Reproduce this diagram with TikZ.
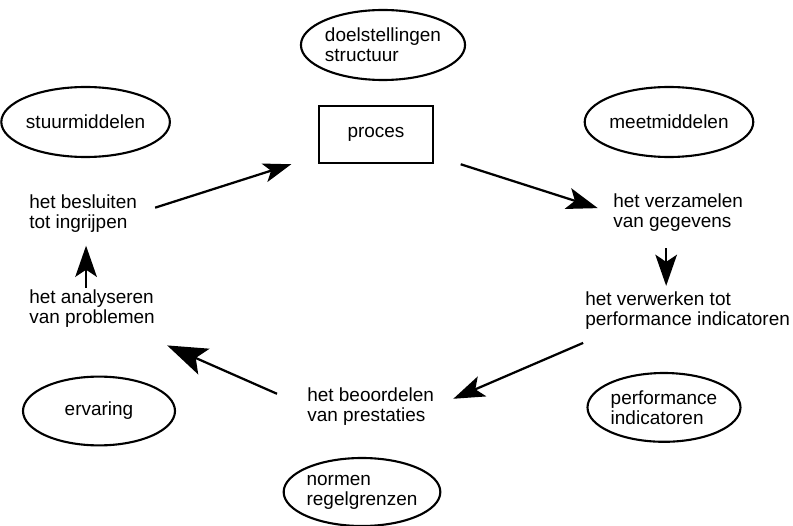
\documentclass[tikz,border=0pt]{standalone}
\usepackage{fontspec}
\setmainfont{Liberation Sans}
\usetikzlibrary{arrows.meta,shapes.geometric}

\begin{document}
\begin{tikzpicture}[
    font=\fontsize{13.5}{14.2}\selectfont,
    means/.style={draw, ellipse, line width=1.5pt, inner sep=0pt, align=left, minimum width=3.8cm, minimum height=1.72cm},
    activity/.style={inner sep=0pt, align=left, anchor=west},
    arrow/.style={-{Stealth[length=7.8mm, width=5.4mm, inset=1.8mm]}, line width=1.6pt}
]
\useasboundingbox (0,0) rectangle (19.825,13.125);

\node[draw, line width=1.5pt, minimum width=2.85cm, minimum height=1.425cm] (proces) at (9.4,9.76) {proces};

\node[means, minimum width=3.85cm, minimum height=1.75cm] (doel) at (9.575,12.0) {doelstellingen\\structuur};
\node[means, minimum width=3.875cm, minimum height=1.75cm] (stuur) at (2.14,10.075) {stuurmiddelen};
\node[means, minimum height=1.75cm] (meet) at (16.725,10.075) {meetmiddelen};
\node[means] (ervaring) at (2.475,2.85) {ervaring};
\node[means, minimum width=3.825cm] (perf) at (16.6,2.94) {performance\\indicatoren};
\node[means, minimum width=3.75cm, minimum height=1.7cm] (normen) at (9.05,0.825) {normen\\regelgrenzen};

\node[activity] (besluit) at (0.725,7.79) {het besluiten\\tot ingrijpen};
\node[activity] (analyse) at (0.725,5.4) {het analyseren\\van problemen};
\node[activity] (verzamel) at (15.325,7.8) {het verzamelen\\van gegevens};
\node[activity] (verwerk) at (14.625,5.35) {het verwerken tot\\performance indicatoren};
\node[activity] (beoordeel) at (7.675,2.95) {het beoordelen\\van prestaties};

\draw[arrow, -{Stealth[length=7mm, width=4.8mm, inset=1.7mm]}, shorten <=0.47cm, shorten >=0.7cm] (besluit.east) -- (proces.200);
\draw[arrow, shorten <=0.7cm, shorten >=0.4cm] (proces.-20) -- (verzamel.west);
\draw[arrow, shorten <=0.4cm, shorten >=0.15cm] ([xshift=-3mm]verzamel.south) -- ([xshift=-3mm]verzamel.south |- verwerk.north);
\draw[arrow, shorten <=0.05cm, shorten >=0.52cm] ([yshift=-3mm]verwerk.south west) -- (beoordeel.east);
\draw[arrow, -{Stealth[length=10mm, width=7mm, inset=2.2mm]}, shorten <=0.82cm, shorten >=0.33cm] (beoordeel.west) -- ([yshift=-3mm]analyse.south east);
\draw[arrow, shorten <=0.05cm, shorten >=0.33cm] ([xshift=-1.5mm]analyse.north) -- ([xshift=-1.5mm]analyse.north |- besluit.south);
\end{tikzpicture}
\end{document}
